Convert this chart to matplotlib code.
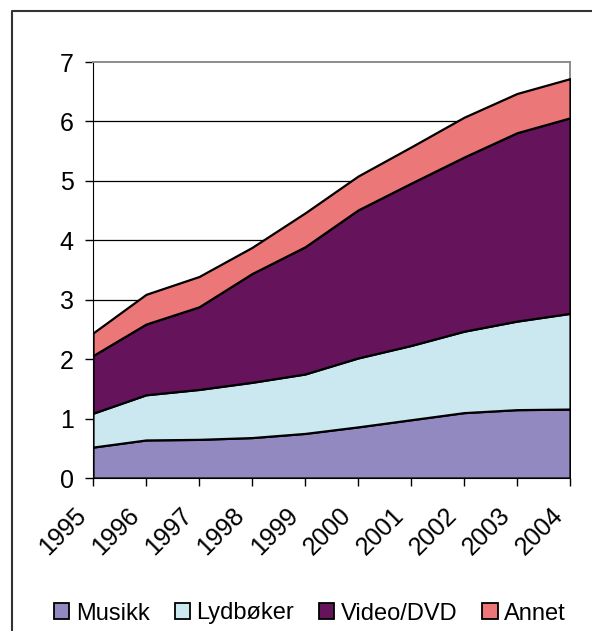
import matplotlib.pyplot as plt
import matplotlib.transforms as mtransforms
from matplotlib.patches import Patch
from matplotlib.lines import Line2D

# -----------------------------
# Data
# -----------------------------
years = ["1995", "1996", "1997", "1998", "1999", "2000", "2001", "2002", "2003", "2004"]
musikk = [0.52, 0.64, 0.65, 0.68, 0.75, 0.86, 0.98, 1.10, 1.15, 1.16]
lydboker = [0.57, 0.76, 0.84, 0.93, 1.00, 1.16, 1.25, 1.37, 1.49, 1.61]
video_dvd = [0.97, 1.19, 1.39, 1.83, 2.14, 2.49, 2.73, 2.93, 3.17, 3.29]
annet = [0.38, 0.50, 0.51, 0.44, 0.57, 0.57, 0.61, 0.67, 0.66, 0.66]

series_names = ["Musikk", "Lydbøker", "Video/DVD", "Annet"]
colors = ["#9189BF", "#CBE8F0", "#65145B", "#EC7778"]

# -----------------------------
# Plot
# -----------------------------
plt.rcParams["font.family"] = ["Liberation Sans", "DejaVu Sans"]

W, H = 592, 631
fig = plt.figure(figsize=(W / 100, H / 100), dpi=100)
fig.patch.set_facecolor("white")

left, right, top, bottom = 93, 570, 62, 478
ax = fig.add_axes([left / W, 1 - bottom / H, (right - left) / W, (bottom - top) / H])

x = list(range(len(years)))
ax.stackplot(
    x,
    musikk, lydboker, video_dvd, annet,
    colors=colors,
    edgecolor="black",
    linewidth=1.6,
    zorder=3,
)

ax.set_xlim(0, len(years) - 1)
ax.set_ylim(0, 7)
ax.set_yticks(range(0, 8))
ax.set_xticks(x)
ax.set_xticklabels([])

for yv in range(1, 7):
    ax.axhline(yv, color="black", linewidth=0.9, zorder=1)

ax.spines["top"].set_color("#8C8C8C")
ax.spines["right"].set_color("#8C8C8C")
ax.spines["top"].set_linewidth(1.4)
ax.spines["right"].set_linewidth(1.4)
ax.spines["left"].set_color("black")
ax.spines["bottom"].set_color("black")
ax.spines["bottom"].set_zorder(5)

ax.tick_params(axis="y", direction="out", length=5.8, width=1, labelsize=18, pad=8.0)
ax.tick_params(axis="x", direction="out", length=5.8, width=1)

# rotated year labels, placed down-left of each tick like the original
offset = mtransforms.ScaledTranslation(-19.5 / 100, -25 / 100, fig.dpi_scale_trans)
for xi, yr in zip(x, years):
    ax.text(xi, 0, yr, transform=ax.get_xaxis_transform() + offset,
            rotation=45, rotation_mode="anchor", ha="right", va="top",
            fontsize=18, clip_on=False)

# -----------------------------
# Legend
# -----------------------------
handles = [Patch(facecolor=c, edgecolor="black", linewidth=1.3) for c in colors]
fig.legend(
    handles,
    series_names,
    loc="center",
    bbox_to_anchor=(310 / W, 1 - 613.5 / H),
    ncol=4,
    frameon=False,
    fontsize=17,
    handlelength=0.64,
    handleheight=0.64,
    handletextpad=0.28,
    columnspacing=1.06,
)

# Outer chart frame (left and top edges visible)
fx = 12 / W
fy = 1 - 11 / H
fig.add_artist(Line2D([fx, fx, 1.0], [0.0, fy, fy], transform=fig.transFigure,
                      color="#333333", linewidth=1.5))

fig.savefig("out.png", dpi=100, facecolor="white")
